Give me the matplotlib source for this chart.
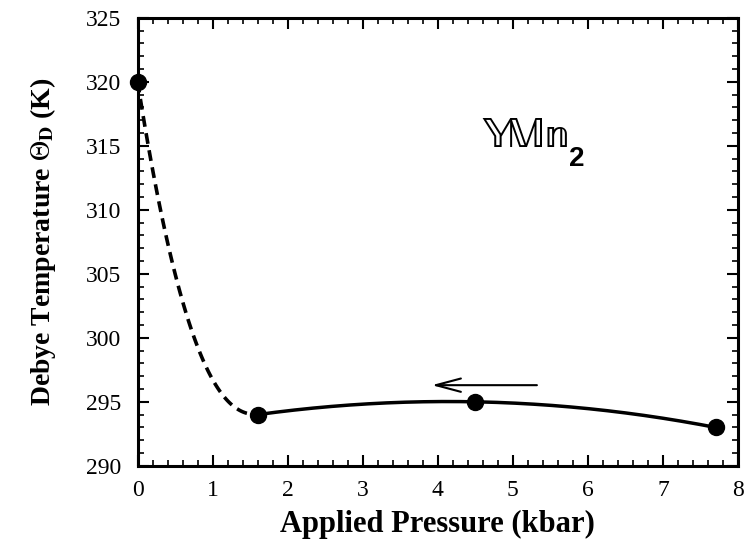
import numpy as np
import matplotlib
matplotlib.use('Agg')
import matplotlib.pyplot as plt
from matplotlib.ticker import MultipleLocator

# measured points
pressure = [0.0, 1.6, 4.5, 7.7]
theta_d = [320, 294, 295, 293]

plt.rcParams['font.family'] = ['Liberation Serif', 'DejaVu Serif']
plt.rcParams['mathtext.fontset'] = 'stix'

fig = plt.figure(figsize=(7.44, 5.41), dpi=100)
ax = fig.add_axes([0.185, 0.139, 0.807, 0.828])

# dashed guide: drop from first point to second
x0, x1 = pressure[0], pressure[1]
y0, y1 = theta_d[0], theta_d[1]
xd = np.linspace(x0, x1, 100)
yd = y1 + (y0 - y1) * (1 - (xd - x0) / (x1 - x0)) ** 2.3
ax.plot(xd, yd, color='black', lw=2.6, ls=(0, (3.0, 1.8)))

# solid guide: quadratic through remaining points
coef = np.polyfit(pressure[1:], theta_d[1:], 2)
xs = np.linspace(pressure[1], pressure[-1], 200)
ax.plot(xs, np.polyval(coef, xs), color='black', lw=2.5)

ax.plot(pressure, theta_d, 'o', color='black', ms=11.5, clip_on=False, zorder=5)

ax.annotate('', xy=(3.92, 296.3), xytext=(5.32, 296.3),
            arrowprops=dict(arrowstyle='->,head_length=1.2,head_width=0.32',
                            lw=1.5, color='black', mutation_scale=15,
                            shrinkA=0, shrinkB=0))

ax.text(4.57, 314.9, r'$\mathrm{\mathbb{YMn}}$', fontsize=32, ha='left', va='baseline')
ax.text(5.75, 313.4, '2', fontsize=20, fontweight='bold', family='Liberation Sans',
        ha='left', va='baseline')

ax.set_xlim(0, 8)
ax.set_ylim(290, 325)
ax.xaxis.set_major_locator(MultipleLocator(1))
ax.xaxis.set_minor_locator(MultipleLocator(0.2))
ax.yaxis.set_major_locator(MultipleLocator(5))
ax.yaxis.set_minor_locator(MultipleLocator(1))
ax.tick_params(which='both', direction='in', top=True, right=True, labelsize=17)
ax.tick_params(which='major', length=8, width=1.5)
ax.tick_params(axis='y', which='major', pad=12)
ax.tick_params(axis='x', which='major', pad=10)
ax.tick_params(which='minor', length=4, width=1.2)
for s in ax.spines.values():
    s.set_linewidth(2.2)

ax.set_xlabel('Applied Pressure (kbar)', fontsize=22, fontweight='bold', labelpad=7)
ax.set_ylabel(r'Debye Temperature $\Theta_\mathbf{D}$ (K)', fontsize=20,
              fontweight='bold', labelpad=20)

fig.savefig('out.png', dpi=100)
